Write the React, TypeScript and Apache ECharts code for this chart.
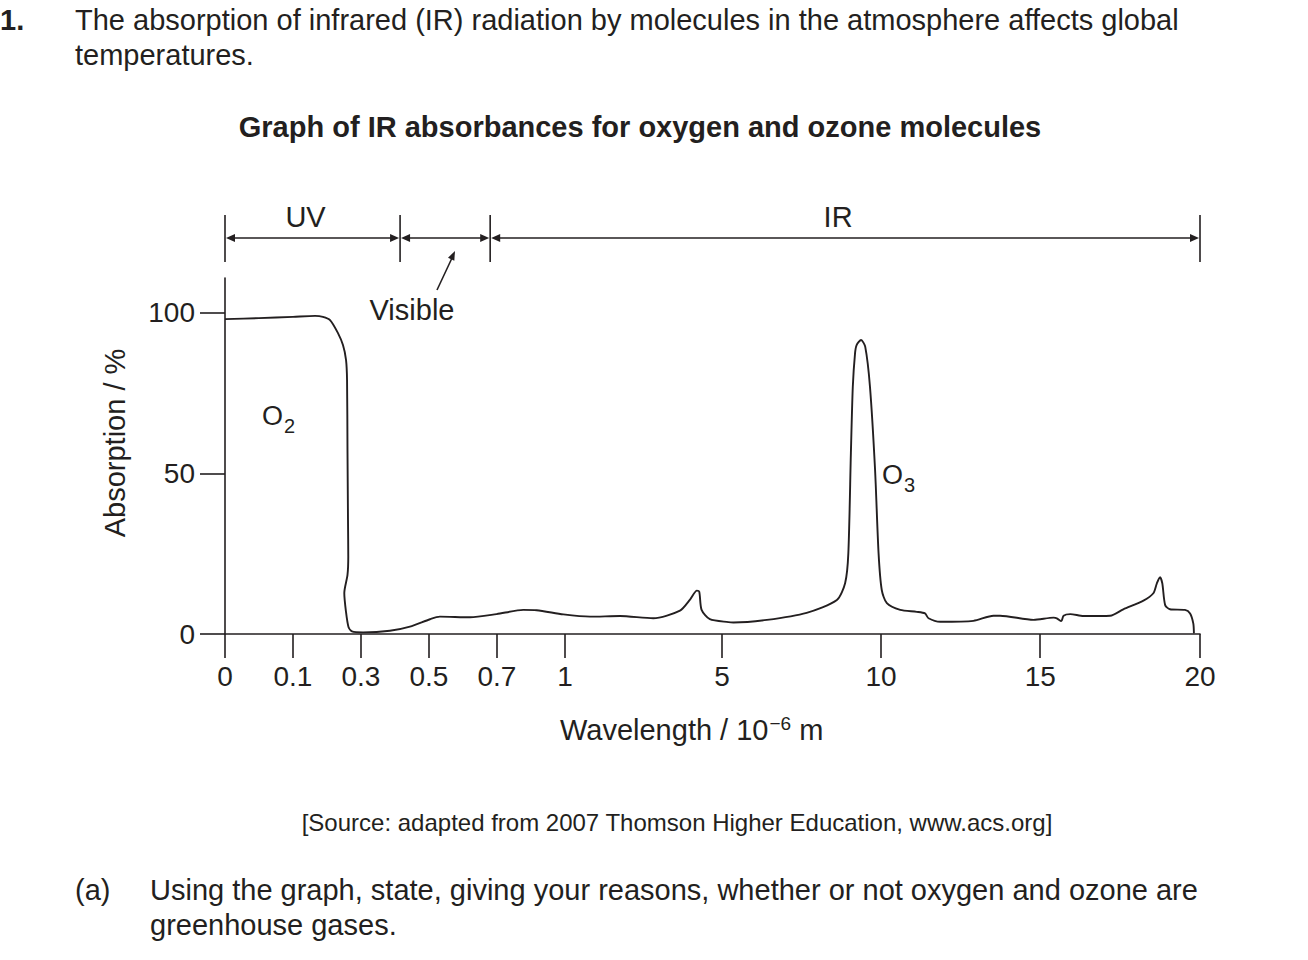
import React, { useEffect, useRef } from "react";
import * as echarts from "echarts";

// Axis ticks (wavelength / 10^-6 m) and their relative positions along the axis
const X_TICKS = [0, 0.1, 0.3, 0.5, 0.7, 1, 5, 10, 15, 20];
const X_TICK_POS = [0, 1, 2, 3, 4, 5, 7.31, 9.65, 11.99, 14.34];
const Y_TICKS = [0, 50, 100];
const Y_MAX = 110.9;

// Absorption curve (wavelength, absorption %)
const WAVELENGTH = [
  0, 0.05, 0.1, 0.165, 0.188, 0.209, 0.232, 0.247, 0.256, 0.259, 0.2603, 0.2618, 0.2626, 0.2603,
  0.2509, 0.2559, 0.2632, 0.2735, 0.306, 0.385, 0.444, 0.503, 0.532, 0.621, 0.699, 0.816, 0.875,
  0.993, 1.64, 2.4, 3.25, 3.93, 4.19, 4.36, 4.42, 4.48, 4.69, 5.2, 5.36, 6.41, 7.66, 8.61, 8.87,
  8.97, 9.05, 9.11, 9.18, 9.23, 9.37, 9.5, 9.65, 9.81, 9.92, 10.02, 10.18, 10.6, 11.12, 11.38,
  11.49, 11.86, 12.9, 13.53, 13.74, 14.79, 15.42, 15.52, 15.66, 15.73, 15.94, 16.35, 17.19, 17.6,
  18.23, 18.54, 18.65, 18.75, 18.82, 18.91, 19.06, 19.53, 19.69, 19.79, 19.81,
];
const ABSORPTION = [
  98.1, 98.4, 98.8, 99.1, 98.8, 97.8, 93.8, 90.0, 85.4, 79.1, 57.3, 35.5, 24.0, 18.4,
  12.8, 6.9, 2.2, 0.8, 0.5, 1.0, 2.3, 4.6, 5.4, 5.2, 6.2, 7.5, 7.4,
  6.1, 5.4, 5.6, 4.9, 7.3, 10.8, 13.5, 13.2, 7.5, 4.6, 3.7, 3.6, 4.4, 6.6, 10.6, 15.9,
  25.2, 56.4, 77.0, 87.4, 90.0, 91.6, 89.5, 77.0, 51.1, 25.1, 13.7, 9.6, 7.5, 6.9, 6.4,
  4.9, 3.8, 4.1, 5.7, 5.7, 4.4, 5.1, 4.9, 4.0, 5.7, 6.2, 5.6, 5.7, 7.7,
  10.4, 12.7, 15.8, 17.7, 15.8, 9.0, 7.7, 7.5, 6.4, 3.3, 0.2,
];

// Spectrum regions drawn above the chart
const BAND_EDGES = [0, 0.415, 0.68, 20];
const BAND_LABELS = ["UV", "", "IR"];

const FONT = "Liberation Sans, Arial, Helvetica, sans-serif";
const INK = "#231f20";

function toPos(w: number): number {
  for (let i = 0; i < X_TICKS.length - 1; i++) {
    const a = X_TICKS[i], b = X_TICKS[i + 1];
    if (w <= b || i === X_TICKS.length - 2) {
      return X_TICK_POS[i] + ((w - a) / (b - a)) * (X_TICK_POS[i + 1] - X_TICK_POS[i]);
    }
  }
  return 0;
}

function labelForPos(p: number): string {
  for (let i = 0; i < X_TICK_POS.length; i++) {
    if (Math.abs(X_TICK_POS[i] - p) < 1e-6) return String(X_TICKS[i]);
  }
  return "";
}

function txt(text: string, x: number, y: number, opts: any = {}) {
  return {
    type: "text",
    x,
    y,
    rotation: opts.rotation || 0,
    style: {
      text,
      fill: INK,
      fontFamily: FONT,
      fontSize: opts.fontSize || 29,
      fontWeight: opts.fontWeight || "normal",
      align: opts.align || "left",
      verticalAlign: "middle",
      rich: opts.rich,
    },
  };
}

function arrowHead(tipX: number, tipY: number, dx: number, dy: number, len = 9, half = 4) {
  const n = Math.hypot(dx, dy);
  const ux = dx / n, uy = dy / n;
  const bx = tipX - ux * len, by = tipY - uy * len;
  return {
    type: "polygon",
    shape: {
      points: [
        [tipX, tipY],
        [bx - uy * half, by + ux * half],
        [bx + uy * half, by - ux * half],
      ],
    },
    style: { fill: INK },
  };
}

export default function App() {
  const ref = useRef<HTMLDivElement>(null);

  useEffect(() => {
    if (!ref.current) return;
    const chart = echarts.init(ref.current, undefined, { renderer: "svg" });
    const data = WAVELENGTH.map((w, i) => [toPos(w), ABSORPTION[i]]);
    const xPos = X_TICKS.map(toPos);

    chart.setOption({
      animation: false,
      grid: { left: 225, right: 108, top: 278, bottom: 326 },
      xAxis: {
        type: "value",
        min: 0,
        max: X_TICK_POS[X_TICK_POS.length - 1],
        axisLine: { show: true, onZero: false, lineStyle: { color: INK, width: 1.6 } },
        axisTick: { show: true, customValues: xPos, length: 24, lineStyle: { color: INK, width: 1.6 } },
        axisLabel: {
          customValues: xPos,
          formatter: (v: number) => labelForPos(v),
          margin: 28,
          fontSize: 28,
          fontFamily: FONT,
          color: INK,
        },
        splitLine: { show: false },
      },
      yAxis: {
        type: "value",
        min: 0,
        max: Y_MAX,
        axisLine: { show: true, lineStyle: { color: INK, width: 1.6 } },
        axisTick: { show: true, customValues: Y_TICKS, length: 25, lineStyle: { color: INK, width: 1.6 } },
        axisLabel: {
          customValues: Y_TICKS,
          margin: 30,
          fontSize: 28,
          fontFamily: FONT,
          color: INK,
        },
        splitLine: { show: false },
      },
      series: [
        {
          type: "line",
          data,
          symbol: "none",
          smooth: 0.25,
          lineStyle: { color: INK, width: 1.9 },
        },
      ],
    });

    const px = (w: number) => chart.convertToPixel({ xAxisIndex: 0 }, toPos(w)) as number;
    const edges = BAND_EDGES.map(px);
    const g: any[] = [];
    const yArrow = 238;
    edges.forEach((x) => {
      g.push({ type: "line", shape: { x1: x, y1: 215, x2: x, y2: 262 }, style: { stroke: INK, lineWidth: 1.6 } });
    });
    for (let i = 0; i < edges.length - 1; i++) {
      const a = edges[i] + 1, b = edges[i + 1] - 1;
      g.push({ type: "line", shape: { x1: a + 4, y1: yArrow, x2: b - 4, y2: yArrow }, style: { stroke: INK, lineWidth: 1.6 } });
      g.push(arrowHead(a, yArrow, -1, 0));
      g.push(arrowHead(b, yArrow, 1, 0));
      if (BAND_LABELS[i]) {
        const cx = (edges[i] + edges[i + 1]) / 2 - 7;
        g.push(txt(BAND_LABELS[i], cx, 217, { align: "center" }));
      }
    }
    // "Visible" pointer
    g.push({ type: "line", shape: { x1: 437, y1: 290, x2: 452, y2: 258 }, style: { stroke: INK, lineWidth: 1.6 } });
    g.push(arrowHead(455, 251, 18, -38, 9, 3.5));
    g.push(txt("Visible", 412, 310, { align: "center" }));

    // Molecule labels
    const subRich = {
      o: { fontSize: 27, fontFamily: FONT, color: INK },
      s: { fontSize: 20, fontFamily: FONT, color: INK, padding: [20, 0, 0, 1] },
    };
    g.push(txt("{o|O}{s|2}", 262, 416, { rich: subRich }));
    g.push(txt("{o|O}{s|3}", 882, 475, { rich: subRich }));

    // Page text
    g.push(txt("1.", 0, 20, { fontWeight: "bold" }));
    g.push(txt("The absorption of infrared (IR) radiation by molecules in the atmosphere affects global", 75, 20));
    g.push(txt("temperatures.", 75, 55));
    g.push(txt("Graph of IR absorbances for oxygen and ozone molecules", 640, 127, { fontWeight: "bold", align: "center" }));
    g.push(txt("Absorption / %", 115, 443, { align: "center", rotation: Math.PI / 2 }));
    g.push(
      txt("Wavelength / 10{sup|−6} m", 560, 730, {
        rich: {
          sup: { fontSize: 19, fontFamily: FONT, color: INK, padding: [0, 0, 14, 1] },
        },
      })
    );
    g.push(txt("[Source: adapted from 2007 Thomson Higher Education, www.acs.org]", 677, 822, { fontSize: 24, align: "center" }));
    g.push(txt("(a)", 75, 890));
    g.push(txt("Using the graph, state, giving your reasons, whether or not oxygen and ozone are", 150, 890));
    g.push(txt("greenhouse gases.", 150, 925));

    chart.setOption({ graphic: g });

    return () => chart.dispose();
  }, []);

  return (
    <div
      ref={ref}
      style={{ position: "absolute", left: 0, top: 0, width: 1308, height: 960, background: "#fff" }}
    />
  );
}
